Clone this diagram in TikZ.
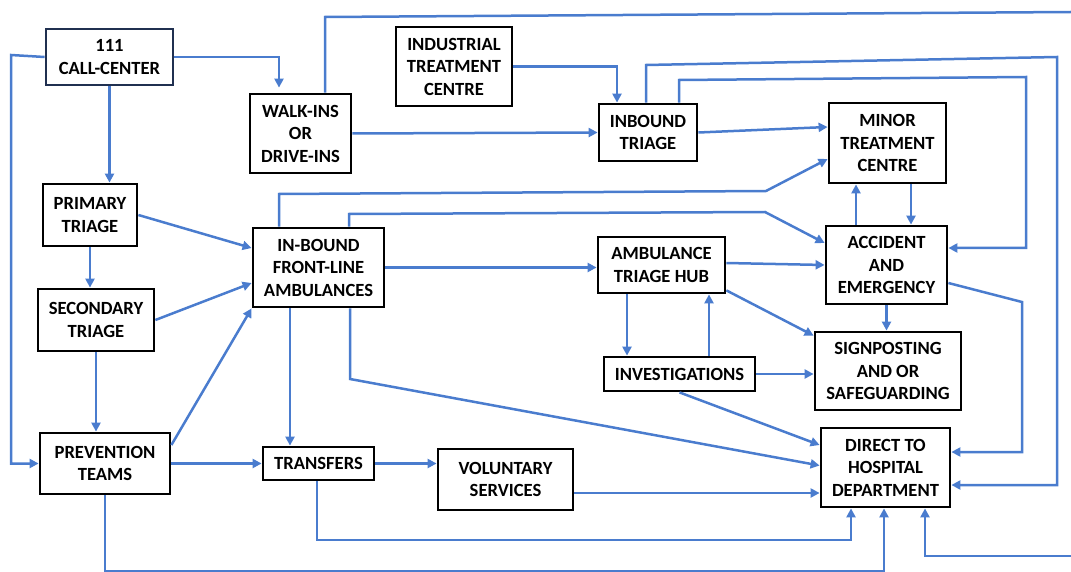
\documentclass[tikz,border=0pt]{standalone}
\usepackage{fontspec}
\setmainfont{Carlito}
\usetikzlibrary{arrows.meta,calc}
\definecolor{lnblue}{RGB}{74,124,206}
\definecolor{navy}{RGB}{32,48,80}
\tikzset{
  box/.style={draw=black, line width=2.8pt, fill=white, align=center, inner sep=0pt,
    font=\bfseries\fontsize{18.6}{22.5}\selectfont},
  conn/.style={draw=lnblue, line width=2.5pt},
  arr/.style={conn, -{Triangle[length=9pt,width=9pt]}}
}
\begin{document}
\begin{tikzpicture}[x=1pt,y=-1pt]
\useasboundingbox (0,0) rectangle (1071,572);
% nodes
\node[box, draw=navy, minimum width=127pt, minimum height=56pt] (cc) at (109.5,57) {111\\CALL-CENTER};
\node[box, minimum width=101pt, minimum height=79pt] (walk) at (300.5,133.5) {WALK-INS\\OR\\DRIVE-INS};
\node[box, minimum width=116pt, minimum height=79pt] (ind) at (454,66.5) {INDUSTRIAL\\TREATMENT\\CENTRE};
\node[box, minimum width=98pt, minimum height=57pt] (inb) at (648,132.5) {INBOUND\\TRIAGE};
\node[box, minimum width=117pt, minimum height=80pt] (minor) at (887.5,143) {MINOR\\TREATMENT\\CENTRE};
\node[box, minimum width=94pt, minimum height=62pt] (prim) at (90,215) {PRIMARY\\TRIAGE};
\node[box, minimum width=116pt, minimum height=62pt] (sec) at (96,320) {SECONDARY\\TRIAGE};
\node[box, minimum width=131pt, minimum height=79pt] (amb) at (318.5,267.5) {IN-BOUND\\FRONT-LINE\\AMBULANCES};
\node[box, minimum width=127pt, minimum height=56pt] (hub) at (661.5,265) {AMBULANCE\\TRIAGE HUB};
\node[box, minimum width=121pt, minimum height=78pt] (ae) at (886.5,265) {ACCIDENT\\AND\\EMERGENCY};
\node[box, minimum width=146pt, minimum height=78pt] (sign) at (888,371) {SIGNPOSTING\\AND OR\\SAFEGUARDING};
\node[box, minimum width=151pt, minimum height=34pt] (inv) at (679.5,374) {INVESTIGATIONS};
\node[box, minimum width=130pt, minimum height=61pt] (prev) at (105,463.5) {PREVENTION\\TEAMS};
\node[box, minimum width=111pt, minimum height=33pt] (trans) at (318.5,463.5) {TRANSFERS};
\node[box, minimum width=135pt, minimum height=61pt] (vol) at (505.5,479.5) {VOLUNTARY\\SERVICES};
\node[box, minimum width=129pt, minimum height=79pt] (direct) at (885.5,467.5) {DIRECT TO\\HOSPITAL\\DEPARTMENT};
\coordinate (topR) at (1071,12);
\coordinate (botR) at (1071,556);
% connectors
\draw[arr] (cc.west) -- (11,55) |- (prev.west);
\draw[arr] (cc.east) -| ([xshift=-21.5pt,yshift=5pt]walk.north);
\draw[arr] (cc.south) -- (cc.south |- prim.north);
\draw[conn] ([xshift=24.5pt]walk.north) -- (325,17) -- (topR);
\draw[arr] (walk.east) -- (inb.west);
\draw[arr] (ind.east) -| ([xshift=-31pt]inb.north);
\draw[arr] (inb.east) -- ([yshift=16pt]minor.west);
\draw[arr] ([xshift=-2pt]inb.north) -- (646,65) -- (1057,57) |- ([yshift=-17.5pt]direct.east);
\draw[arr] ([xshift=31pt]inb.north) -- (679,80) -- (1026,77) |- ([yshift=17pt]ae.east);
\draw[arr] ([xshift=23.5pt]minor.south) -- ([xshift=24.5pt]ae.north);
\draw[arr] ([xshift=-30.5pt]ae.north) -- ([xshift=-31.5pt]minor.south);
\draw[arr] ([xshift=-39.5pt]amb.north) -- (279,194) -- (766,191) -- ([yshift=-16pt]minor.west);
\draw[arr] ([xshift=30.5pt]amb.north) -- (349,214) -- (765,212) -- ([yshift=22pt]ae.west);
\draw[arr] (amb.east) -- (amb.east -| hub.west);
\draw[arr] ([xshift=-28.5pt]amb.south) -- ([xshift=-28.5pt]amb.south |- trans.north);
\draw[arr] ([xshift=31.5pt]amb.south) -- (350,379) -- ([yshift=2pt]direct.west);
\draw[arr] (prim.east) -- ([yshift=19.5pt]amb.west);
\draw[arr] (sec.east) -- ([yshift=-15.5pt]amb.west);
\draw[arr] ([yshift=18.5pt]prev.east) -- (amb.south west);
\draw[arr] (prim.south) -- (prim.south |- sec.north);
\draw[arr] (sec.south) -- (sec.south |- prev.north);
\draw[arr] (prev.east) -- (trans.west);
\draw[arr] (trans.east) -- (trans.east -| vol.west);
\draw[arr] ([xshift=-1.5pt]trans.south) -- (317,540) -| ([xshift=-34.5pt]direct.south);
\draw[arr] ([yshift=-13.5pt]vol.east) -- ([yshift=-13.5pt]vol.east -| direct.west);
\draw[arr] (prev.south) -- (105,571) -| ([xshift=-1.5pt]direct.south);
\draw[arr] (botR) -| ([xshift=39.5pt]direct.south);
\draw[arr] ([yshift=2pt]hub.east) -- (ae.west);
\draw[arr] ([xshift=-34.5pt]hub.south) -- ([xshift=-34.5pt]hub.south |- inv.north);
\draw[arr] ([xshift=29.5pt]inv.north) -- ([xshift=29.5pt]inv.north |- hub.south);
\draw[arr] ([yshift=4pt]hub.south east) -- ([yshift=-5pt]sign.north west);
\draw[arr] (inv.east) -- (inv.east -| sign.west);
\draw[arr] (inv.south) -- ([yshift=22.5pt]direct.west);
\draw[arr] (ae.south) -- (ae.south |- sign.north);
\draw[arr] ([yshift=-18pt]ae.east) -- (1022,302) |- ([yshift=15.5pt]direct.east);
\end{tikzpicture}
\end{document}
